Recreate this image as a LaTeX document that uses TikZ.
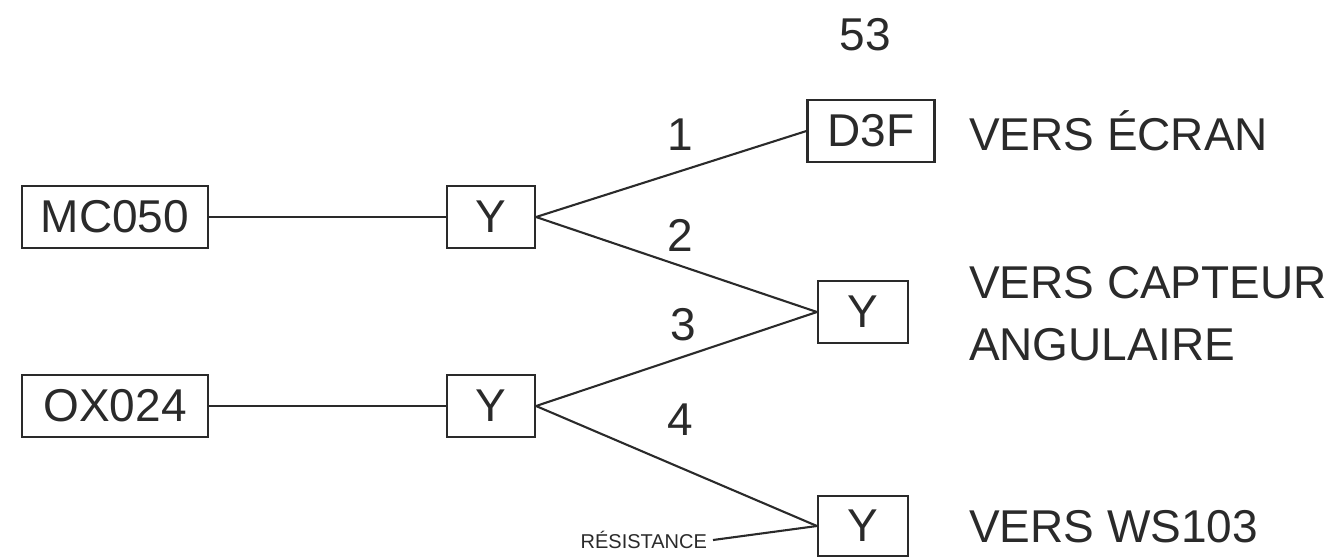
\documentclass[tikz,border=0pt]{standalone}
\usepackage{fontspec}
\setmainfont{Liberation Sans}
\definecolor{ink}{HTML}{2A2A2A}
\begin{document}
\begin{tikzpicture}[x=1pt,y=-1pt, line width=2.1pt, draw=ink,
  box/.style={draw=ink, line width=2.1pt, minimum height=62pt, inner sep=0pt, text=ink, font=\fontsize{46}{50}\selectfont},
  lbl/.style={inner sep=0pt, text=ink, font=\fontsize{46}{50}\selectfont},
  small/.style={inner sep=0pt, text=ink, font=\fontsize{20}{22}\selectfont},
  wire/.style={draw=ink, line width=2.1pt}]
\useasboundingbox (0,0) rectangle (1343,558);
\node[box, minimum width=186pt] (mc) at (115,217) {MC050};
\node[box, minimum width=88pt] (y1) at (491,217) {Y};
\node[box, minimum width=186pt] (ox) at (115,406) {OX024};
\node[box, minimum width=88pt] (y3) at (491,406) {Y};
\node[box, minimum width=127pt] (d3f) at (871,131) {D3F};
\node[box, minimum width=90pt] (y2) at (863,312) {Y};
\node[box, minimum width=90pt, minimum height=60pt] (y4) at (863,526) {Y};
\node[lbl] (n53) at (865,35) {53};
\node[lbl, anchor=west] (t1) at (968,131) {VERS ÉCRAN};
\node[lbl, anchor=west] (t2a) at (968,283) {VERS CAPTEUR};
\node[lbl, anchor=west] (t2b) at (968,345) {ANGULAIRE};
\node[lbl, anchor=west] (t3) at (968,527) {VERS WS103};
\node[lbl] (l1) at (680,135) {1};
\node[lbl] (l2) at (680,235) {2};
\node[lbl] (l3) at (683,325) {3};
\node[lbl] (l4) at (680,420) {4};
\node[small, anchor=east] (res) at (708,540) {RÉSISTANCE};
\draw[wire] (mc.east) -- (y1.west);
\draw[wire] (ox.east) -- (y3.west);
\draw[wire] (y1.east) -- (d3f.west);
\draw[wire] (y1.east) -- (y2.west);
\draw[wire] (y3.east) -- (y2.west);
\draw[wire] (y3.east) -- (y4.west);
\draw[wire] ([xshift=5pt]res.east) -- (y4.west);
\end{tikzpicture}
\end{document}
